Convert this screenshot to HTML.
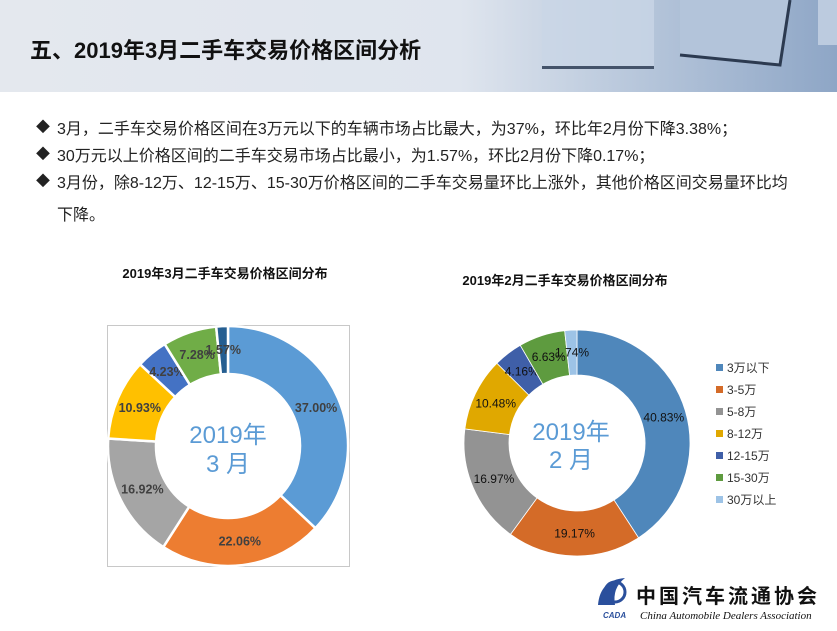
<!DOCTYPE html>
<html><head><meta charset="utf-8">
<style>
body{margin:0;width:837px;height:631px;overflow:hidden;background:#fff;font-family:"Liberation Sans","Noto Sans CJK SC",sans-serif;position:relative}
.hdr{position:absolute;left:0;top:0;width:837px;height:92px;background:linear-gradient(90deg,#e4e8ee 0%,#dfe5ee 55%,#b9c8dc 75%,#8ea6c6 100%);}
.title{position:absolute;left:30px;top:33px;font-size:22px;font-weight:bold;color:#111;white-space:nowrap}
.b{position:absolute;left:36px;font-size:16px;color:#222;white-space:nowrap}
.b span{position:absolute;left:0;font-size:14px;top:2px}
.b div{margin-left:21px}
</style></head><body>
<div class="hdr">
<svg width="837" height="92" style="position:absolute;left:0;top:0">
<rect x="542" y="0" width="112" height="68" fill="#c9d6e6" opacity="0.8"/>
<rect x="542" y="66" width="112" height="3" fill="#44536a"/>
<path d="M680 0 L790 0 L780 65 L680 55 Z" fill="#b3c4da"/>
<path d="M680 55 L780 65 L790 0" stroke="#2c3a50" stroke-width="3" fill="none"/>
<rect x="818" y="0" width="19" height="45" fill="#bccbdf"/>
</svg>
</div>
<div class="title">五、2019年3月二手车交易价格区间分析</div>
<div class="b" style="top:115px"><span>◆</span><div>3月，二手车交易价格区间在3万元以下的车辆市场占比最大，为37%，环比年2月份下降3.38%；</div></div>
<div class="b" style="top:142px"><span>◆</span><div>30万元以上价格区间的二手车交易市场占比最小，为1.57%，环比2月份下降0.17%；</div></div>
<div class="b" style="top:169px"><span>◆</span><div>3月份，除8-12万、12-15万、15-30万价格区间的二手车交易量环比上涨外，其他价格区间交易量环比均</div><div style="margin-top:8px">下降。</div></div>

<svg id="chart" width="837" height="631" style="position:absolute;left:0;top:0" font-family="Liberation Sans, Noto Sans CJK SC, sans-serif">
<text x="225" y="278" text-anchor="middle" font-size="13" font-weight="bold" fill="#111">2019年3月二手车交易价格区间分布</text>
<rect x="107.5" y="325.5" width="242" height="241" fill="none" stroke="#c8c8c8"/>
<g id="c1"></g>
<text x="228" y="443" text-anchor="middle" font-size="24" fill="#5b9bd5">2019年</text>
<text x="228" y="472" text-anchor="middle" font-size="24" fill="#5b9bd5">3 月</text>
<text x="565" y="285" text-anchor="middle" font-size="13" font-weight="bold" fill="#111">2019年2月二手车交易价格区间分布</text>
<g id="c2"></g>
<text x="571" y="440" text-anchor="middle" font-size="24" fill="#5b9bd5">2019年</text>
<text x="571" y="468" text-anchor="middle" font-size="24" fill="#5b9bd5">2 月</text>
<g id="legend"></g>
<g>
<path d="M598 605 Q600 580 625 578 Q612 588 615 605 Z" fill="#2a4f9c"/>
<circle cx="615" cy="592" r="10" fill="none" stroke="#2a4f9c" stroke-width="3"/>
<text x="603" y="618" font-size="8" font-style="italic" font-weight="bold" fill="#2a4f9c">CADA</text>
<text x="636" y="603" font-size="20" font-weight="bold" fill="#111" letter-spacing="3">中国汽车流通协会</text>
<text x="640" y="619" font-size="11" font-style="italic" font-family="Liberation Serif, serif" fill="#111">China Automobile Dealers Association</text>
</g>
</svg>
<script>
const categories=["3万以下","3-5万","5-8万","8-12万","12-15万","15-30万","30万以上"];
const marValues=[37.00,22.06,16.92,10.93,4.23,7.28,1.57];
const febValues=[40.83,19.17,16.97,10.48,4.16,6.63,1.74];
const marColors=["#5b9bd5","#ed7d31","#a5a5a5","#ffc000","#4472c4","#70ad47","#255e91"];
const febColors=["#4f87bb","#d46b28","#939393","#e0a800","#3f5fa8","#5e9b3f","#9dc3e6"];
const NS="http://www.w3.org/2000/svg";
function pt(cx,cy,r,a){return [cx+r*Math.sin(a),cy-r*Math.cos(a)];}
function donut(g,vals,colors,cx,cy,R,r,gap,bold,prefix){
  const tot=vals.reduce((a,b)=>a+b,0);let a0=0;
  vals.forEach((v,i)=>{
    const a1=a0+v/tot*2*Math.PI;
    const [x1,y1]=pt(cx,cy,R,a0),[x2,y2]=pt(cx,cy,R,a1),[x3,y3]=pt(cx,cy,r,a1),[x4,y4]=pt(cx,cy,r,a0);
    const lg=(a1-a0)>Math.PI?1:0;
    const p=document.createElementNS(NS,"path");
    p.setAttribute("d",`M${x1} ${y1}A${R} ${R} 0 ${lg} 1 ${x2} ${y2}L${x3} ${y3}A${r} ${r} 0 ${lg} 0 ${x4} ${y4}Z`);
    p.setAttribute("fill",colors[i]);p.setAttribute("stroke","#fff");p.setAttribute("stroke-width",gap);
    
    
    g.appendChild(p);
    const [lx,ly]=pt(cx,cy,(R+r)/2,(a0+a1)/2);
    const t=document.createElementNS(NS,"text");
    t.setAttribute("x",lx);t.setAttribute("y",ly+4);t.setAttribute("text-anchor","middle");
    t.setAttribute("font-size",bold?"12.5":"12");if(bold)t.setAttribute("font-weight","bold");
    t.setAttribute("fill",bold?"#404040":"#111");
    t.textContent=vals[i].toFixed(2)+"%";
    
    
    g.appendChild(t);
    a0=a1;
  });
}
donut(document.getElementById("c1"),marValues,marColors,228,446,120,72,2.5,true,"chart1");
donut(document.getElementById("c2"),febValues,febColors,577,443,113,68,0.8,false,"chart2");
const lg=document.getElementById("legend");
categories.forEach((c,i)=>{
  const y=368+i*22;
  const r=document.createElementNS(NS,"rect");
  r.setAttribute("x",716);r.setAttribute("y",y-4);r.setAttribute("width",7);r.setAttribute("height",7);r.setAttribute("fill",febColors[i]);
  
  
  lg.appendChild(r);
  const t=document.createElementNS(NS,"text");
  t.setAttribute("x",727);t.setAttribute("y",y+4);t.setAttribute("font-size","12");t.setAttribute("fill","#333");
  t.textContent=c;
  
  
  lg.appendChild(t);
});
</script>
</body></html>
